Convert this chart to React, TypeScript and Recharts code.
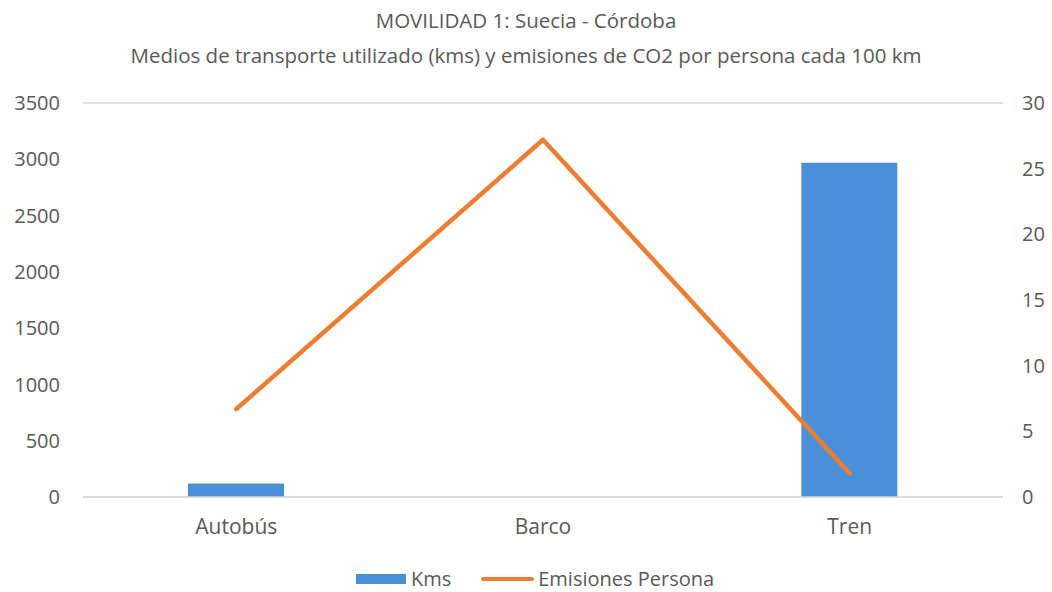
import { ComposedChart, Bar, Line, XAxis, YAxis, CartesianGrid } from 'recharts';

const categories = ['Autobús', 'Barco', 'Tren'];
const kms = [120, 0, 2970];
const emisiones = [6.7, 27.2, 1.8];
const kmsTicks = [0, 500, 1000, 1500, 2000, 2500, 3000, 3500];
const emisionesTicks = [0, 5, 10, 15, 20, 25, 30];

const data = categories.map((name, i) => ({ name, kms: kms[i], emisiones: emisiones[i] }));

const BLUE = '#4a90d9';
const ORANGE = '#ed7d31';
const TEXT = '#595959';
const FONT = '"Open Sans", sans-serif';

export default function App() {
  const yTick = { fill: TEXT, fontSize: 20, fontFamily: FONT };
  const xTick = { fill: TEXT, fontSize: 21, fontFamily: FONT };
  return (
    <div style={{ position: 'absolute', left: 0, top: 0, width: 1052, height: 592, background: '#fff', fontFamily: FONT, color: TEXT }}>
      <div style={{ position: 'absolute', top: 6, width: 1052, textAlign: 'center', fontSize: 20.5 }}>
        MOVILIDAD 1: Suecia - Córdoba
      </div>
      <div style={{ position: 'absolute', top: 41, width: 1052, textAlign: 'center', fontSize: 20.5 }}>
        Medios de transporte utilizado (kms) y emisiones de CO2 por persona cada 100 km
      </div>
      <ComposedChart
        width={1052}
        height={592}
        data={data}
        margin={{ top: 103, right: 0, left: 0, bottom: 0 }}
        barSize={96}
      >
        <CartesianGrid vertical={false} stroke="#d9d9d9" strokeWidth={1.5} />
        <XAxis
          dataKey="name"
          height={95}
          tickLine={false}
          tickSize={0}
          tickMargin={22}
          axisLine={{ stroke: '#d9d9d9', strokeWidth: 1.5 }}
          tick={xTick}
        />
        <YAxis
          yAxisId="left"
          width={83}
          domain={[0, 3500]}
          ticks={kmsTicks}
          axisLine={false}
          tickLine={false}
          tickSize={0}
          tickMargin={23}
          tick={yTick}
        />
        <YAxis
          yAxisId="right"
          orientation="right"
          width={49}
          domain={[0, 30]}
          ticks={emisionesTicks}
          axisLine={false}
          tickLine={false}
          tickSize={0}
          tickMargin={19}
          tick={{ ...yTick, textAnchor: 'start' }}
        />
        <Bar yAxisId="left" dataKey="kms" name="Kms" fill={BLUE} isAnimationActive={false} />
        <Line
          yAxisId="right"
          dataKey="emisiones"
          name="Emisiones Persona"
          type="linear"
          stroke={ORANGE}
          strokeWidth={4.5}
          strokeLinecap="round"
          strokeLinejoin="round"
          dot={false}
          activeDot={false}
          isAnimationActive={false}
        />
      </ComposedChart>
      <div style={{ position: 'absolute', top: 565, left: 0, width: 1052, paddingLeft: 18, boxSizing: 'border-box', display: 'flex', justifyContent: 'center', alignItems: 'center', fontSize: 20 }}>
        <span style={{ display: 'inline-block', width: 50, height: 10, background: BLUE, marginRight: 5 }} />
        <span style={{ marginRight: 30 }}>Kms</span>
        <span style={{ display: 'inline-block', width: 53, height: 4, background: ORANGE, borderRadius: 2, marginRight: 4 }} />
        <span>Emisiones Persona</span>
      </div>
    </div>
  );
}
